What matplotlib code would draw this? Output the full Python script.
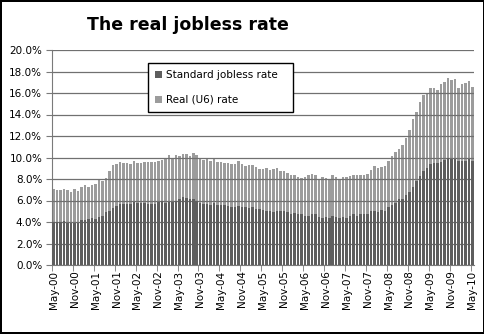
import matplotlib
matplotlib.use("Agg")
import matplotlib.pyplot as plt
from matplotlib.ticker import FuncFormatter, FixedLocator
import numpy as np

months = ["Jan", "Feb", "Mar", "Apr", "May", "Jun", "Jul", "Aug", "Sep", "Oct", "Nov", "Dec"]
labels = []
for y in range(2000, 2011):
    for m in range(12):
        if (y == 2000 and m < 4) or (y == 2010 and m > 4):
            continue
        labels.append(f"{months[m]}-{str(y)[2:]}")

standard = [
    4.0, 4.0, 4.0, 4.1, 3.9, 3.9, 3.9, 3.9,
    4.2, 4.2, 4.3, 4.4, 4.3, 4.5, 4.6, 4.9, 5.0, 5.3, 5.5, 5.7,
    5.7, 5.7, 5.7, 5.9, 5.8, 5.8, 5.8, 5.7, 5.7, 5.7, 5.9, 6.0,
    5.8, 5.9, 5.9, 6.0, 6.1, 6.3, 6.2, 6.1, 6.1, 6.0, 5.8, 5.7,
    5.7, 5.6, 5.8, 5.6, 5.6, 5.6, 5.5, 5.4, 5.4, 5.5, 5.4, 5.4,
    5.3, 5.4, 5.2, 5.2, 5.1, 5.0, 5.0, 4.9, 5.0, 5.0, 5.0, 4.9,
    4.7, 4.8, 4.7, 4.7, 4.6, 4.6, 4.7, 4.7, 4.5, 4.4, 4.5, 4.4,
    4.6, 4.5, 4.4, 4.5, 4.4, 4.6, 4.7, 4.6, 4.7, 4.7, 4.7, 5.0,
    5.0, 4.9, 5.1, 5.0, 5.4, 5.6, 5.8, 6.1, 6.1, 6.5, 6.8, 7.3,
    7.8, 8.3, 8.7, 9.0, 9.4, 9.5, 9.5, 9.6, 9.8, 10.0, 9.9, 9.9,
    9.7, 9.7, 9.7, 9.9, 9.7,
]
u6 = [
    7.1, 7.0, 7.0, 7.1, 7.0, 6.8, 7.1, 6.9,
    7.3, 7.4, 7.3, 7.4, 7.5, 7.9, 7.8, 8.1, 8.7, 9.3, 9.4, 9.6,
    9.5, 9.5, 9.4, 9.7, 9.5, 9.5, 9.6, 9.6, 9.6, 9.6, 9.7, 9.8,
    10.0, 10.2, 10.0, 10.2, 10.1, 10.3, 10.3, 10.1, 10.4, 10.2, 10.0, 9.8,
    9.9, 9.7, 10.0, 9.6, 9.6, 9.5, 9.5, 9.4, 9.4, 9.7, 9.4, 9.2,
    9.3, 9.3, 9.1, 8.9, 8.9, 9.0, 8.8, 8.9, 9.0, 8.7, 8.7, 8.6,
    8.4, 8.4, 8.2, 8.1, 8.2, 8.4, 8.5, 8.4, 8.0, 8.2, 8.1, 7.9,
    8.4, 8.2, 8.0, 8.2, 8.2, 8.3, 8.4, 8.4, 8.4, 8.4, 8.5, 8.8,
    9.2, 9.0, 9.1, 9.2, 9.7, 10.1, 10.5, 10.8, 11.2, 11.8, 12.6, 13.6,
    14.2, 15.2, 15.8, 15.9, 16.5, 16.5, 16.3, 16.8, 17.0, 17.4, 17.2, 17.3,
    16.5, 16.8, 16.9, 17.1, 16.6,
]
series_names = ["Standard jobless rate", "Real (U6) rate"]
title = "The real jobless rate"

n = len(labels)
x = np.arange(n)

fig = plt.figure(figsize=(4.85, 3.34), dpi=100)
fig.patch.set_edgecolor("black")
fig.patch.set_linewidth(1.5)
ax = fig.add_axes([52 / 485, 69 / 334, 422 / 485, 215 / 334])

b2 = ax.bar(x, u6, width=0.72, color="#9c9c9c", zorder=2, label=series_names[1])
b1 = ax.bar(x, standard, width=0.72, color="#5e5e5e", zorder=3, label=series_names[0])

ax.set_xlim(-0.5, n - 0.5)
ax.set_ylim(0, 20)
ax.set_yticks(np.arange(0, 20.1, 2))
ax.yaxis.set_major_formatter(FuncFormatter(lambda v, p: f"{v:.1f}%"))
ax.set_axisbelow(False)
ax.grid(axis="y", color="#707070", linewidth=0.9, zorder=4)

ax.set_xticks(x[::6])
ax.set_xticklabels(labels[::6], rotation=90, fontsize=7.5)
ax.tick_params(axis="x", length=0, pad=4)
ax.xaxis.set_minor_locator(FixedLocator(np.arange(-0.5, n, 6)))
ax.tick_params(axis="x", which="minor", length=4, color="#7a7a7a")
ax.tick_params(axis="y", labelsize=7.5, length=4, color="#7a7a7a", pad=3)

for s in ["top", "right"]:
    ax.spines[s].set_visible(False)
ax.spines["left"].set_color("#7a7a7a")
ax.spines["bottom"].set_color("#7a7a7a")

fig.text(188 / 485, 1 - 25 / 334, title, ha="center", va="center",
         fontsize=12.5, fontweight="bold", family="DejaVu Sans")

leg = ax.legend(handles=[b1, b2], loc="upper left",
                bbox_to_anchor=(148 / 485, 1 - 116 / 334, 145 / 485, 53 / 334),
                bbox_transform=fig.transFigure, mode="expand",
                fontsize=7.5, frameon=True, fancybox=False, edgecolor="black",
                handlelength=0.6, handleheight=0.6, handletextpad=0.4,
                labelspacing=1.4, borderpad=0.7, borderaxespad=0, framealpha=1)
leg.get_frame().set_linewidth(1.0)
leg.set_zorder(10)

fig.savefig("out.png", dpi=100, edgecolor=fig.get_edgecolor())
